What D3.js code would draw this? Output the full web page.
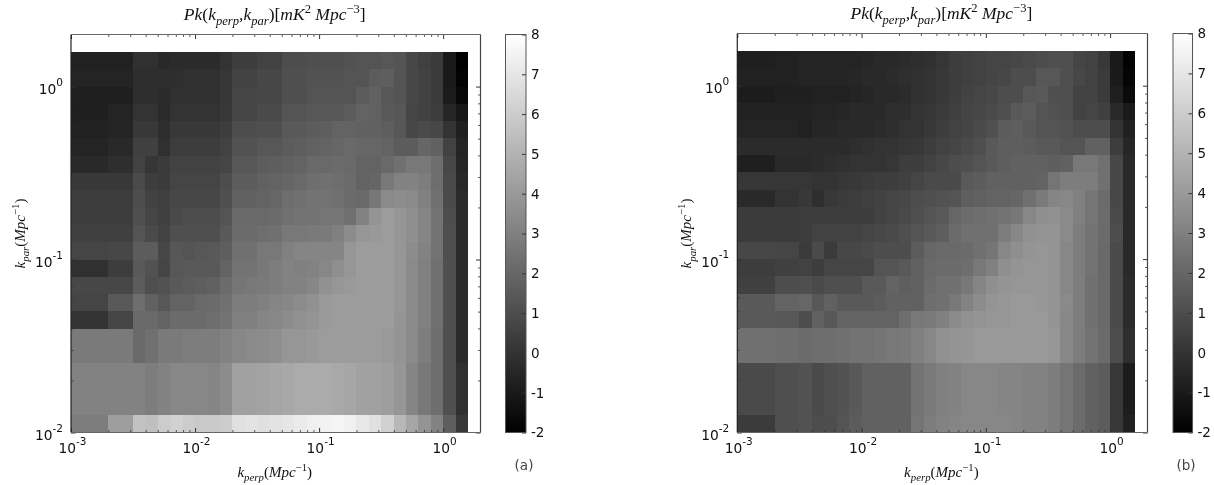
<!DOCTYPE html>
<html>
<head>
<meta charset="utf-8">
<script src="https://d3js.org/d3.v7.min.js"></script>
<style>
html,body{margin:0;padding:0;background:#fff;}
svg{display:block;filter:blur(0.35px);}
</style>
</head>
<body>
<svg id="chart" width="1214" height="485"></svg>
<script>
// log10 bin edges of k_perp (left to right) and k_par (top to bottom)
const kPerpEdgeExp = [-3,-2.7,-2.5,-2.4,-2.3,-2.2,-2.1,-2,-1.9,-1.8,-1.7,-1.6,-1.5,-1.4,-1.3,-1.2,-1.1,-1,-0.9,-0.8,-0.7,-0.6,-0.5,-0.4,-0.3,-0.2,-0.1,0,0.1,0.2];
const kParEdgeExp = [0.2,0.1,0,-0.1,-0.2,-0.3,-0.4,-0.5,-0.6,-0.7,-0.8,-0.9,-1,-1.1,-1.2,-1.3,-1.4,-1.6,-1.9,-2];
const panelLabels = ["(a)","(b)"];
const xMajorTicks = [1e-3,1e-2,1e-1,1e0];
const yMajorTicks = [1e-2,1e-1,1e0];
const colorTicks = [-2,-1,0,1,2,3,4,5,6,7,8];

const gridA = [
[-.7,-.7,-.1,-.1,-.4,-.3,-.3,-.3,-.3,0,.4,.4,.6,.6,1,1,1.1,1.1,1.1,1.2,1.3,1.3,1.4,1.3,.8,.5,.3,-1,-2],
[-.6,-.6,-.2,-.2,-.2,-.2,-.1,-.1,-.1,.1,.6,.6,.8,.8,1.1,1.1,1.2,1.2,1.2,1.3,1.3,1.6,1.7,1.3,.8,.6,.3,-1,-1.9],
[-.8,-.8,-.2,-.2,-.3,-.1,-.1,-.1,-.1,.1,.7,.7,.8,.8,1.1,1.1,1.3,1.3,1.3,1.3,1.6,1.8,1.4,1.3,.8,.6,.3,-.9,-1.7],
[-.8,-.6,0,0,-.3,0,0,0,0,.2,.7,.7,.9,.9,1.3,1.3,1.4,1.4,1.4,1.6,1.9,1.8,1.5,1.4,.7,.6,.4,-.5,-1.1],
[-.7,-.6,.2,.2,-.2,.2,.2,.2,.2,.4,1,1,1.1,1.1,1.5,1.5,1.6,1.7,1.9,1.9,1.8,1.8,1.7,1.4,.8,.9,.8,0,-.8],
[-.6,-.4,.5,.5,-.1,.4,.4,.4,.4,.6,1.2,1.2,1.4,1.4,1.6,1.7,1.8,1.9,2,2.1,2,2,1.9,1.6,1.6,2,1.8,.6,-.6],
[-.4,-.2,.6,.1,.3,.6,.6,.6,.6,.7,1.4,1.4,1.6,1.7,1.8,1.9,2.1,2.1,2.2,2.1,1.9,1.9,2.1,2.4,2.7,2.7,2.3,.8,-.5],
[.2,.2,.9,.4,.3,.7,.7,.7,.7,1,1.6,1.6,1.8,1.9,2,2.1,2.3,2.4,2.3,2.2,1.9,2,2.7,3.1,3.1,2.9,2.3,.9,-.4],
[.4,.4,1,.6,.5,.8,.8,.8,.8,1.1,1.8,1.8,1.9,2,2.3,2.4,2.5,2.5,2.4,2.2,2.1,2.7,3.4,3.5,3.4,3,2.4,.9,-.3],
[.4,.4,1.1,.7,.5,.9,1,1,1,1.3,2.1,2.1,2.1,2.2,2.4,2.5,2.5,2.6,2.6,2.4,3.1,3.8,4.1,3.9,3.6,3.2,2.5,1,-.3],
[.5,.5,1.3,.9,.6,1.1,1.1,1.1,1.1,1.5,2.2,2.2,2.3,2.4,2.7,2.7,2.8,2.8,3,3.5,3.9,4,4.1,3.9,3.6,3.2,2.5,1.1,-.3],
[.7,.8,1.6,1.6,.8,1.4,1.3,1.4,1.5,1.7,2.4,2.4,2.7,2.7,3,3.2,3.2,3.2,3.2,3.9,4.1,4.1,4.1,3.9,3.5,3.1,2.5,1.1,-.3],
[-.1,.4,1.5,1.2,.7,1.4,1.5,1.5,1.5,1.9,2.5,2.5,2.7,2.9,3.1,3,3.1,3.3,3.6,3.9,4.1,4.1,4.1,3.9,3.4,3,2.4,1.1,-.3],
[.8,.8,1.6,1.1,1.2,1.5,1.6,1.7,1.8,2.2,2.6,2.7,2.8,2.9,3.1,3.1,3.3,3.7,3.9,4,4.1,4.1,4.1,3.9,3.4,3,2.4,1.1,-.3],
[.7,1.5,2.3,1.8,1.4,1.9,1.9,2.1,2.2,2.4,2.9,2.9,3,3.2,3.3,3.5,3.7,4,4.1,4.1,4.1,4.1,4.1,3.9,3.4,3,2.4,1.1,-.3],
[0,.7,2.1,2.1,1.9,2.2,2.2,2.2,2.3,2.5,3,3,3.2,3.3,3.5,3.7,3.8,4,4.1,4.1,4.1,4.1,4.1,3.8,3.4,3,2.4,1.1,-.3],
[2.8,2.8,2.1,2.4,2.8,2.8,2.9,2.9,2.9,3.1,3.3,3.4,3.5,3.6,3.9,3.9,4,4.1,4.1,4.1,4.1,4.1,4,3.8,3.4,2.9,2.3,1.1,-.3],
[3.1,3.1,3.1,2.9,3.1,3.3,3.3,3.3,3.2,3.5,4.3,4.3,4.4,4.5,4.6,4.7,4.7,4.7,4.6,4.5,4.3,4.3,4.2,3.9,3.2,2.7,2.3,1.1,-.1],
[2.9,4.2,5.6,5.5,6,6.2,6,5.9,5.9,6,6.8,6.9,6.8,6.9,7,7.2,7.4,7.5,7.6,7.4,7.1,6.8,6.2,5.2,4.5,3.8,3.1,1.7,.2]
];

const gridB = [
[-.8,-.7,-.6,-.6,-.6,-.6,-.6,-.5,-.4,-.4,-.3,-.2,-.1,.1,.4,.5,.6,.7,.7,.8,.9,1,1.1,1.1,.7,.6,.2,-1,-1.9],
[-.7,-.7,-.6,-.6,-.6,-.6,-.5,-.4,-.4,-.3,-.2,-.1,0,.2,.4,.5,.6,.7,.8,1,1,1.4,1.4,1.1,.8,.6,.3,-1,-1.8],
[-.9,-.8,-.8,-.7,-.7,-.7,-.6,-.5,-.4,-.4,-.3,-.1,0,.2,.4,.6,.7,.8,1,1,1.4,1.5,1.1,1.1,.6,.6,.3,-.8,-1.6],
[-.7,-.7,-.7,-.6,-.6,-.5,-.4,-.4,-.4,-.2,-.2,0,.1,.3,.5,.7,.8,.9,1.1,1.5,1.6,1.3,1.2,1.1,.6,.7,.5,-.4,-1],
[-.6,-.6,-.7,-.5,-.5,-.4,-.4,-.4,-.3,-.2,0,0,.2,.4,.6,.7,.9,1.1,1.6,1.7,1.5,1.3,1.3,1.2,1,1,1,0,-.7],
[-.3,-.3,-.3,-.3,-.3,-.3,-.2,-.1,0,0,.1,.2,.4,.6,.7,.9,1.1,1.5,1.7,1.7,1.6,1.5,1.5,1.3,1.3,1.8,1.8,.4,-.5],
[-.8,-.4,-.4,-.3,-.2,-.1,0,0,0,.1,.4,.4,.6,.8,1,1.1,1.3,1.5,1.7,1.8,1.8,1.8,1.7,1.8,2.7,2.7,2.4,.8,-.4],
[.1,.1,.1,0,0,.1,.2,.3,.4,.4,.5,.7,.9,.9,.9,1.5,1.6,1.8,1.8,1.8,1.8,1.9,2.6,2.9,2.9,2.9,2.4,.8,-.4],
[-.4,0,.2,-.2,.2,.3,.4,.5,.6,.7,.8,1,1.1,1.2,1.3,1.7,1.8,1.9,1.9,2,2.4,2.8,3.2,3.3,3,2.6,2.2,.8,-.4],
[.3,.3,.4,.4,.4,.4,.4,.4,.6,.7,.9,1.1,1.3,1.5,2,2.2,2.3,2.4,2.5,2.7,3.3,3.6,3.7,3.4,3,2.6,2.2,.9,-.4],
[.3,.3,.4,.6,.6,.6,.6,.7,.8,.9,1.1,1.3,1.5,1.7,2.2,2.4,2.4,2.4,2.9,3.3,3.7,3.8,3.8,3.4,2.9,2.5,2.2,1,-.4],
[.8,.7,.3,.9,.3,.8,.8,.9,1,1,1,1.6,2,2.1,2.1,2.2,2.4,2.6,3.3,3.6,3.8,3.9,3.8,3.3,2.9,2.5,2.1,.9,-.4],
[.4,.5,.6,.4,.7,.7,.7,.7,1.3,1.3,1.5,1.8,2.1,2.2,2.2,2.3,2.7,3,3.6,3.8,3.9,3.9,3.8,3.3,2.9,2.5,2.1,.9,-.4],
[.5,1,1.1,.9,1.1,1.1,1.1,1.5,1.5,1.9,1.7,1.8,2.2,2.4,2.4,2.7,3.2,3.6,3.8,3.9,3.9,3.9,3.8,3.3,2.9,2.4,2.1,.9,-.3],
[1.5,1.9,2,1.4,1.8,1.5,1.5,1.5,1.6,1.8,1.8,1.8,2.3,2.4,2.7,3.1,3.5,3.8,3.9,4,4,3.9,3.8,3.4,2.9,2.4,2.1,.9,-.3],
[1.5,1.4,1,1.8,1.4,1.9,1.9,1.9,1.9,1.9,2.3,2.7,2.8,3,3.4,3.7,3.8,3.9,3.9,4,4,4,3.8,3.3,2.9,2.4,2.1,.9,-.3],
[2.4,2.3,2.2,2.3,2.3,2.4,2.5,2.5,2.6,2.7,2.8,3,3.3,3.7,3.8,3.9,4,4,4,4,4,4,3.9,3.3,2.9,2.5,2.2,1,-.2],
[.9,1.1,1.2,.9,1.1,1.2,1.5,1.8,1.8,1.8,1.8,2.5,2.8,3,3.1,3.3,3.3,3.3,3.2,3.2,3.1,3.1,2.9,2.6,2.2,1.8,1.6,.2,-.9],
[.3,1.1,1.2,1,1,1.3,1.6,1.8,1.8,1.8,1.8,2.6,2.9,3.1,3.2,3.3,3.3,3.3,3.3,3.2,3.1,3.1,2.9,2.6,2.2,1.8,1.6,.2,-.7]
];

const svg = d3.select("#chart");
const grey = d3.scaleLinear().domain([-2,8]).range(["#000000","#ffffff"]).clamp(true);
const SERIF = "'Liberation Serif', serif";
const SANS = "'DejaVu Sans', sans-serif";

function minorsBetween(majors){
  const out=[];
  majors.forEach(m=>{ for(let i=2;i<=9;i++){ out.push(m*i); } });
  return out;
}

function mathText(g,parts,attrs){
  const t=g.append("text").attr("font-family",SERIF)
    .attr("fill","#111").attr("text-anchor","middle");
  Object.keys(attrs).forEach(k=>t.attr(k,attrs[k]));
  const size=+attrs["font-size"];
  let shift=0;
  parts.forEach(p=>{
    const target = p.sub ? size*0.28 : p.sup ? -size*0.42 : 0;
    t.append("tspan").text(p.t).attr("dy",target-shift)
      .attr("font-style",p.up?"normal":"italic")
      .attr("font-size",(p.sub||p.sup)?size*0.72:size);
    shift=target;
  });
  return t;
}

function powerLabel(textSel,exp){
  textSel.text(null).attr("font-family",SANS).attr("font-size",13.8).attr("fill","#111");
  textSel.append("tspan").text("10");
  textSel.append("tspan").text(exp).attr("dy",-8.5).attr("font-size",10.5);
}

function drawPanel(o){
  const g=svg.append("g");
  const x=d3.scaleLog().domain([1e-3,2]).range([o.left,o.right]);
  const y=d3.scaleLog().domain([1e-2,2]).range([o.bottom,o.top]);

  // heat map cells
  const cells=[];
  o.grid.forEach((row,r)=>row.forEach((v,c)=>cells.push({r,c,v})));
  g.append("g").attr("shape-rendering","crispEdges").selectAll("rect").data(cells).join("rect")
    .attr("x",d=>x(Math.pow(10,kPerpEdgeExp[d.c])))
    .attr("y",d=>y(Math.pow(10,kParEdgeExp[d.r])))
    .attr("width",d=>x(Math.pow(10,kPerpEdgeExp[d.c+1]))-x(Math.pow(10,kPerpEdgeExp[d.c])))
    .attr("height",d=>y(Math.pow(10,kParEdgeExp[d.r+1]))-y(Math.pow(10,kParEdgeExp[d.r])))
    .attr("fill",d=>grey(d.v));

  const xMinor=minorsBetween(xMajorTicks).filter(v=>v<2);
  const yMinor=minorsBetween(yMajorTicks).filter(v=>v<2);
  const tickCol="#333";

  function addAxis(gen,tf,major){
    const a=g.append("g").attr("transform",tf).call(gen);
    a.select(".domain").remove();
    a.selectAll(".tick line").attr("stroke",tickCol).attr("stroke-width",major?1:0.8);
    return a;
  }
  const L=4.5,M=2.5;
  // bottom
  const bm=addAxis(d3.axisBottom(x).tickValues(xMajorTicks).tickSize(-L).tickFormat(""),`translate(0,${o.bottom})`,true);
  addAxis(d3.axisBottom(x).tickValues(xMinor).tickSize(-M).tickFormat(""),`translate(0,${o.bottom})`,false);
  // top
  addAxis(d3.axisTop(x).tickValues(xMajorTicks).tickSize(-L).tickFormat(""),`translate(0,${o.top})`,true);
  addAxis(d3.axisTop(x).tickValues(xMinor).tickSize(-M).tickFormat(""),`translate(0,${o.top})`,false);
  // left
  const lm=addAxis(d3.axisLeft(y).tickValues(yMajorTicks).tickSize(-L).tickFormat(""),`translate(${o.left},0)`,true);
  addAxis(d3.axisLeft(y).tickValues(yMinor).tickSize(-M).tickFormat(""),`translate(${o.left},0)`,false);
  // right
  addAxis(d3.axisRight(y).tickValues(yMajorTicks).tickSize(-L).tickFormat(""),`translate(${o.right},0)`,true);
  addAxis(d3.axisRight(y).tickValues(yMinor).tickSize(-M).tickFormat(""),`translate(${o.right},0)`,false);

  // tick labels
  bm.selectAll(".tick").each(function(d){
    const t=d3.select(this).select("text");
    t.attr("y",null).attr("dy",null).attr("transform",null)
     .attr("text-anchor","middle").attr("x",1).attr("y",20.5);
    powerLabel(t,String(Math.round(Math.log10(d))));
  });
  lm.selectAll(".tick").each(function(d){
    const t=d3.select(this).select("text");
    t.attr("dy",null).attr("text-anchor","end").attr("x",-8).attr("y",7);
    powerLabel(t,String(Math.round(Math.log10(d))));
  });

  // frame
  const frame=g.append("g").attr("fill","none");
  frame.append("line").attr("x1",o.left).attr("x2",o.left).attr("y1",o.top).attr("y2",o.bottom).attr("stroke","#222").attr("stroke-width",1.2);
  frame.append("line").attr("x1",o.right).attr("x2",o.right).attr("y1",o.top).attr("y2",o.bottom).attr("stroke","#444").attr("stroke-width",1.2);
  frame.append("line").attr("x1",o.left).attr("x2",o.right).attr("y1",o.top).attr("y2",o.top).attr("stroke","#666").attr("stroke-width",1.2);
  frame.append("line").attr("x1",o.left).attr("x2",o.right).attr("y1",o.bottom).attr("y2",o.bottom).attr("stroke","#666").attr("stroke-width",1.2);

  // title and axis titles
  mathText(g,[{t:"Pk"},{t:"(",up:1},{t:"k"},{t:"perp",sub:1},{t:",k"},{t:"par",sub:1},{t:")[",up:1},{t:"mK"},{t:"2",sup:1,up:1},{t:"  Mpc"},{t:"−3",sup:1,up:1},{t:"]",up:1}],
    {x:(o.left+o.right)/2-1,y:o.titleY,"font-size":17.5});
  mathText(g,[{t:"k"},{t:"perp",sub:1},{t:"(",up:1},{t:"Mpc"},{t:"−1",sup:1,up:1},{t:")",up:1}],
    {x:(o.left+o.right)/2-1,y:477,"font-size":15});
  mathText(g,[{t:"k"},{t:"par",sub:1},{t:"(",up:1},{t:"Mpc"},{t:"−1",sup:1,up:1},{t:")",up:1}],
    {transform:`translate(${o.left-46},233.5) rotate(-90)`,"font-size":15});

  // colour bar
  const cy=d3.scaleLinear().domain([-2,8]).range([o.bottom,o.top]);
  const bar=g.append("g").attr("shape-rendering","crispEdges");
  bar.selectAll("rect").data(d3.range(-2,8,0.05)).join("rect")
    .attr("x",o.cbLeft).attr("width",o.cbRight-o.cbLeft)
    .attr("y",d=>cy(d+0.05)).attr("height",d=>cy(d)-cy(d+0.05)+0.5)
    .attr("fill",d=>grey(d+0.025));
  const ca=g.append("g").attr("transform",`translate(${o.cbRight},0)`)
    .call(d3.axisRight(cy).tickValues(colorTicks).tickSize(-4).tickFormat(d=>String(d)));
  ca.select(".domain").remove();
  ca.selectAll(".tick line").attr("stroke","#333");
  ca.selectAll(".tick text").attr("x",5).attr("font-family",SANS).attr("font-size",13.5).attr("fill","#111");
  g.append("rect").attr("x",o.cbLeft).attr("y",o.top).attr("width",o.cbRight-o.cbLeft).attr("height",o.bottom-o.top)
    .attr("fill","none").attr("stroke","#555").attr("stroke-width",1);

  // panel letter
  g.append("text").attr("x",o.letterX).attr("y",470).attr("text-anchor","middle")
    .attr("font-family",SANS).attr("font-size",13.5).attr("fill","#444").text(o.letter);
}

drawPanel({grid:gridA,left:71,right:480.5,top:34.5,bottom:432.5,titleY:20,cbLeft:505.5,cbRight:526,letterX:524,letter:panelLabels[0]});
drawPanel({grid:gridB,left:737.3,right:1147.5,top:33.5,bottom:432.5,titleY:19,cbLeft:1173,cbRight:1192.5,letterX:1186,letter:panelLabels[1]});
</script>
</body>
</html>
